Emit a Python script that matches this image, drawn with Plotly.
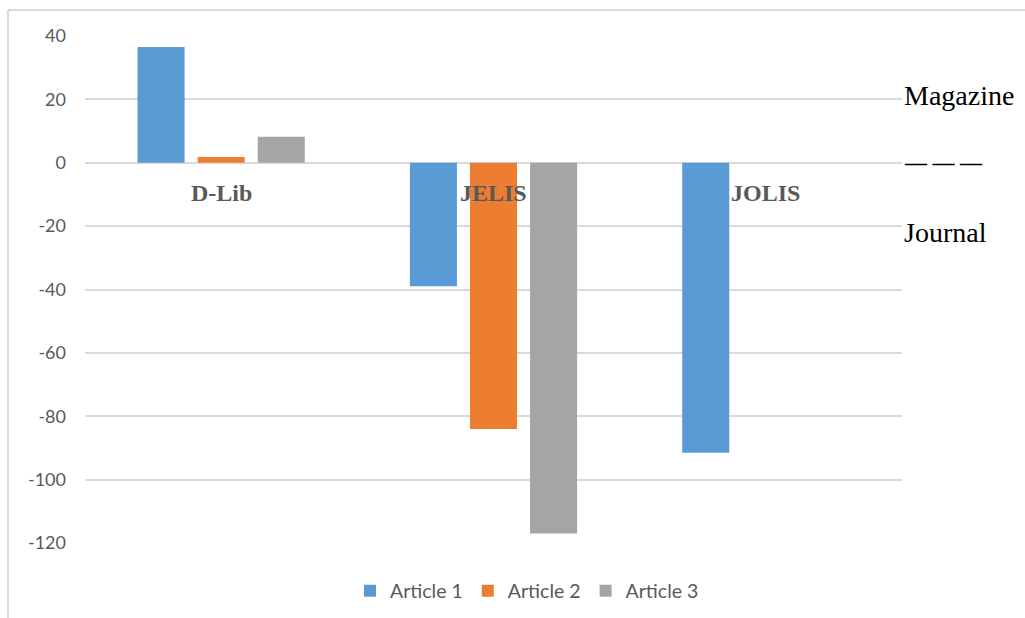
import plotly.graph_objects as go

categories = ["D-Lib", "JELIS", "JOLIS"]
series_names = ["Article 1", "Article 2", "Article 3"]
article1 = [36.5, -39, -91.5]
article2 = [1.8, -84, None]
article3 = [8.2, -117, None]
y_ticks = [40, 20, 0, -20, -40, -60, -80, -100, -120]
y_tick_text = ["40", "20", "0", "-20", "-40", "-60", "-80", "-100", "-120"]
side_labels = ["Magazine", "<b>— — —</b>", "Journal"]
side_label_y = [21.2, 0, -22]
side_label_size = [28, 22, 28]

colors = ["#5B9BD5", "#ED7D31", "#A5A5A5"]

fig = go.Figure()
for name, vals, col in zip(series_names, [article1, article2, article3], colors):
    fig.add_trace(go.Bar(x=categories, y=vals, name=name, marker=dict(color=col, line=dict(width=0))))

# plot-area geometry (pixels)
L, R, T, B = 85, 902, 36, 543
W, H = 1025, 618

fig.update_layout(
    width=W, height=H,
    margin=dict(l=L, r=W - R, t=T, b=H - B, autoexpand=False),
    paper_bgcolor="white", plot_bgcolor="white",
    barmode="group", bargap=0.338, bargroupgap=0.217,
    showlegend=True,
    legend=dict(orientation="h", x=(527 - L) / (R - L), xanchor="center",
                y=(B - 591) / (B - T), yanchor="middle",
                font=dict(family="Lato", size=19.5, color="#595959"),
                itemwidth=30, traceorder="normal"),
    font=dict(family="Lato", size=18, color="#595959"),
)
fig.update_xaxes(showticklabels=False, showgrid=False, zeroline=False, showline=False)
fig.update_yaxes(range=[-120, 40], tickvals=y_ticks, ticktext=y_tick_text, showgrid=True,
                 gridcolor="#d9d9d9", gridwidth=1.5,
                 zeroline=True, zerolinecolor="#d9d9d9", zerolinewidth=1.5, showline=False,
                 ticklabelstandoff=18, tickfont=dict(family="Lato", size=18, color="#595959"))

# category labels just below the zero line
for c in categories:
    fig.add_annotation(x=c, y=0, yshift=-30, text="<b>%s</b>" % c, showarrow=False,
                       font=dict(family="Liberation Serif", size=24, color="#595959"),
                       xanchor="center", yanchor="middle")

# right-side labels
for t, yv, sz in zip(side_labels, side_label_y, side_label_size):
    fig.add_annotation(x=1.0, xref="paper", y=yv, text=t, showarrow=False, xanchor="left",
                       yanchor="middle", font=dict(family="Liberation Serif", size=sz, color="black"))

# outer frame (left and top)
fx = (8 - L) / (R - L)
fy_top = (B - 10) / (B - T)
fy_bot = (B - 618) / (B - T)
fx_right = (W - L) / (R - L)
fig.add_shape(type="line", xref="paper", yref="paper", x0=fx, x1=fx, y0=fy_bot, y1=fy_top,
              line=dict(color="#d9d9d9", width=2))
fig.add_shape(type="line", xref="paper", yref="paper", x0=fx, x1=fx_right, y0=fy_top, y1=fy_top,
              line=dict(color="#d9d9d9", width=2))

fig.write_html("out.html")
